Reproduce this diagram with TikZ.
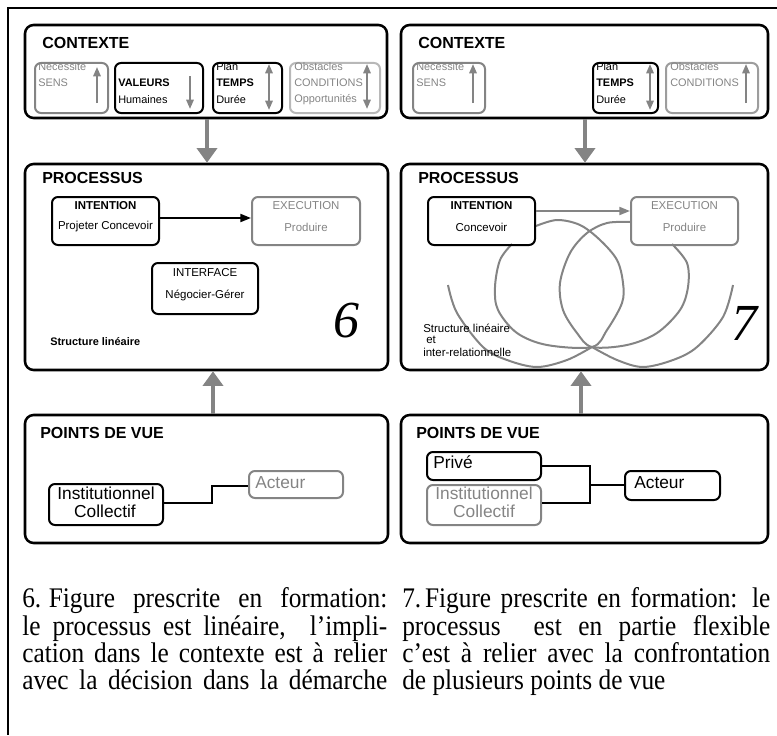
\documentclass[tikz,border=0pt]{standalone}
\usepackage{fontspec}
\usepackage{graphicx}
\setmainfont{Liberation Serif}
\setsansfont{Liberation Sans}
\usetikzlibrary{arrows.meta,fit}
\definecolor{mid}{HTML}{848484}
\definecolor{lightg}{HTML}{B8B8B8}
\newcommand{\capL}[1]{\scalebox{1}[1.12]{\makebox[273.75pt][s]{#1}}}
\newcommand{\capR}[1]{\scalebox{1}[1.12]{\makebox[276pt][s]{#1}}}
\begin{document}
\begin{tikzpicture}[x=0.75pt,y=-0.75pt,
  bigbox/.style={draw, line width=1.9pt, rounded corners=6.5pt, inner sep=0pt},
  smallbox/.style={draw, line width=1.5pt, rounded corners=4.5pt, inner sep=0pt},
  bigarrow/.style={draw=mid, line width=3.6pt, -{Triangle[width=15pt,length=11pt]}},
  tinyup/.style={draw=mid, line width=1.5pt, -{Triangle[width=5.5pt,length=7pt]}},
  tinydown/.style={draw=mid, line width=1.5pt, -{Triangle[width=5.5pt,length=7pt]}},
  tinyboth/.style={draw=mid, line width=1.5pt, {Triangle[width=5.5pt,length=7pt]}-{Triangle[width=5.5pt,length=7pt]}},
  linkarrow/.style={line width=1.5pt, -{Triangle[width=6pt,length=8pt]}},
  title/.style={font=\fontsize{12pt}{14pt}\selectfont\sffamily\bfseries, anchor=west, inner sep=0pt},
  sm/.style={font=\fontsize{8.2pt}{10pt}\selectfont\sffamily, anchor=west, inner sep=0pt},
  smb/.style={font=\fontsize{8.2pt}{10pt}\selectfont\sffamily\bfseries, anchor=west, inner sep=0pt},
  md/.style={font=\fontsize{8.6pt}{10pt}\selectfont\sffamily, inner sep=0pt},
  mdb/.style={font=\fontsize{8.6pt}{10pt}\selectfont\sffamily\bfseries, inner sep=0pt},
  lg/.style={font=\fontsize{13pt}{15pt}\selectfont\sffamily, inner sep=0pt},
  num/.style={font=\fontsize{39pt}{44pt}\selectfont\itshape, inner sep=0pt},
  captext/.style={font=\fontsize{19pt}{21pt}\selectfont, anchor=base west, inner sep=0pt},
  stxt/.style={font=\fontsize{8.6pt}{10pt}\selectfont\sffamily, anchor=west, inner sep=0pt},
  curve/.style={draw=mid, line width=1.5pt},
  conn/.style={line width=1.5pt}
]
\useasboundingbox (0,0) rectangle (777,735);
% outer frame
\draw[line width=1.9pt] (777,8) -- (8,8) -- (8,735);

% ================= LEFT (6) =================
% CONTEXTE
\node[bigbox, fit={(25,25)(387,118)}] (ctxL) {};
\node[title] (ctxLt) at (42,43) {CONTEXTE};
\node[smallbox, draw=mid, fit={(35,63)(108,113)}] (sensL) {};
\node[sm, text=mid] (sensL1) at (38,67) {Nécessité};
\node[sm, text=mid] (sensL2) at (38,83) {SENS};
\draw[tinyup] (97,103) -- (97,67);
\node[smallbox, fit={(115,63)(203,113)}] (valL) {};
\node[smb] (valL1) at (118,83) {VALEURS};
\node[sm] (valL2) at (118,100) {Humaines};
\draw[tinydown] (190,76) -- (190,109);
\node[smallbox, fit={(213,63)(282,113)}] (tpsL) {};
\node[sm] (tpsL1) at (216,67) {Plan};
\node[smb] (tpsL2) at (216,83) {TEMPS};
\node[sm] (tpsL3) at (216,100) {Durée};
\draw[tinyboth] (269,64) -- (269,110);
\node[smallbox, draw=lightg, fit={(290,63)(380,113)}] (obsL) {};
\node[sm, text=mid] (obsL1) at (294,67) {Obstacles};
\node[sm, text=mid] (obsL2) at (294,83) {CONDITIONS};
\node[sm, text=mid] (obsL3) at (294,100) {Opportunités};
\draw[tinyboth] (367,64) -- (367,109);

% PROCESSUS
\node[bigbox, fit={(25,164)(388,370)}] (procL) {};
\node[title] (procLt) at (42,178) {PROCESSUS};
\node[smallbox, fit={(52,197)(159,245)}] (intL) {};
\node[mdb] (intL1) at (105.5,206) {INTENTION};
\node[md] (intL2) at (105.5,227) {Projeter Concevoir};
\node[smallbox, draw=mid, fit={(252,197)(360,245)}] (exeL) {};
\node[md, text=mid] (exeL1) at (306,206) {EXECUTION};
\node[md, text=mid] (exeL2) at (306,227) {Produire};
\coordinate (aL) at (0,218);
\draw[linkarrow] (intL.east |- aL) -- (exeL.west |- aL);
\node[smallbox, fit={(152,263)(258,314)}] (itfL) {};
\node[md] (itfL1) at (205,273) {INTERFACE};
\node[md] (itfL2) at (205,295) {Négocier-Gérer};
\node[smb] (strL) at (50,342) {Structure linéaire};
\node[num] (sixL) at (346,321) {6};

% POINTS DE VUE
\node[bigbox, fit={(25,415)(388,543)}] (pdvL) {};
\node[title] (pdvLt) at (40,433) {POINTS DE VUE};
\node[smallbox, fit={(49,484)(163,525)}] (instL) {};
\node[lg] (instL1) at (106,493) {Institutionnel};
\node[lg] (instL2) at (105,511) {Collectif};
\node[smallbox, draw=mid, fit={(249,471)(343,498)}] (actL) {};
\node[lg, text=mid, anchor=west] (actL1) at (255,483) {Acteur};
\coordinate (pL1) at (0,503);
\coordinate (pL2) at (212,486);
\draw[conn] (instL.east |- pL1) -| (pL2) -- (actL.west |- pL2);

% big arrows left
\coordinate (xL1) at (207,0);
\coordinate (xL2) at (213,0);
\draw[bigarrow] (ctxL.south -| xL1) -- (procL.north -| xL1);
\draw[bigarrow] (pdvL.north -| xL2) -- (procL.south -| xL2);

% ================= RIGHT (7) =================
\node[bigbox, fit={(401,25)(768,118)}] (ctxR) {};
\node[title] (ctxRt) at (418,43) {CONTEXTE};
\node[smallbox, draw=mid, fit={(413,63)(485,113)}] (sensR) {};
\node[sm, text=mid] (sensR1) at (416,67) {Nécessité};
\node[sm, text=mid] (sensR2) at (416,83) {SENS};
\draw[tinyup] (473,103) -- (473,64);
\node[smallbox, fit={(593,63)(658,113)}] (tpsR) {};
\node[sm] (tpsR1) at (596,67) {Plan};
\node[smb] (tpsR2) at (596,83) {TEMPS};
\node[sm] (tpsR3) at (596,100) {Durée};
\draw[tinyboth] (650,64) -- (650,110);
\node[smallbox, draw=mid!80, fit={(666,63)(758,113)}] (obsR) {};
\node[sm, text=mid] (obsR1) at (670,67) {Obstacles};
\node[sm, text=mid] (obsR2) at (670,83) {CONDITIONS};
\draw[tinyup] (746,103) -- (746,64);

% PROCESSUS right
\node[bigbox, fit={(401,164)(768,370)}] (procR) {};
\node[title] (procRt) at (418,178) {PROCESSUS};
\draw[curve] plot[smooth, tension=0.55] coordinates {(536,226)(557,220)(580,225)(600,240)(617,260)(623,283)(622,303)(607,330)(592,347)(547,345)(517,333)(498,310)(495,287)(500,260)(512,244)};
\draw[curve] plot[smooth, tension=0.55] coordinates {(630,222)(607,223)(587,233)(570,253)(560,283)(563,310)(577,333)(592,347)(627,345)(657,333)(680,310)(688,287)(687,263)(672,244)};
\draw[curve] plot[smooth, tension=0.55] coordinates {(448,285)(457,313)(483,347)(507,360)(537,367)(567,360)(592,347)};
\draw[curve] plot[smooth, tension=0.55] coordinates {(733,285)(723,317)(697,347)(673,360)(643,367)(617,360)(592,347)};
\node[smallbox, fit={(428,197)(535,245)}] (intR) {};
\node[mdb] (intR1) at (481.5,206) {INTENTION};
\node[md] (intR2) at (481.5,227) {Concevoir};
\node[smallbox, draw=mid, fit={(631,197)(738,245)}] (exeR) {};
\node[md, text=mid] (exeR1) at (684.5,206) {EXECUTION};
\node[md, text=mid] (exeR2) at (684.5,227) {Produire};
\coordinate (aR) at (0,211);
\draw[linkarrow, draw=mid] (intR.east |- aR) -- (exeR.west |- aR);
\node[stxt] (strR1) at (423,328) {Structure linéaire};
\node[stxt] (strR2) at (426,340) {et};
\node[stxt] (strR3) at (423,352) {inter-relationnelle};
\node[num] (sevR) at (744,323) {7};

% POINTS DE VUE right
\node[bigbox, fit={(401,415)(768,543)}] (pdvR) {};
\node[title] (pdvRt) at (416,433) {POINTS DE VUE};
\node[smallbox, fit={(427,452)(541,480)}] (privR) {};
\node[lg, anchor=west] (privR1) at (433,462) {Privé};
\node[smallbox, draw=mid, fit={(427,485)(541,525)}] (instR) {};
\node[lg, text=mid] (instR1) at (484,493) {Institutionnel};
\node[lg, text=mid] (instR2) at (484,511) {Collectif};
\node[smallbox, fit={(625,471)(720,500)}] (actR) {};
\node[lg, anchor=west] (actR1) at (634,483) {Acteur};
\coordinate (qa) at (0,466);
\coordinate (qb) at (0,503);
\coordinate (jR) at (590,485);
\draw[conn] (privR.east |- qa) -| (jR) |- (instR.east |- qb);
\draw[conn] (jR) -- (actR.west |- jR);

% big arrows right
\coordinate (xR1) at (585,0);
\coordinate (xR2) at (581,0);
\draw[bigarrow] (ctxR.south -| xR1) -- (procR.north -| xR1);
\draw[bigarrow] (pdvR.north -| xR2) -- (procR.south -| xR2);

% ================= CAPTIONS =================
\node[captext] (capL1) at (22,607) {\capL{6.\hspace{0.3em}Figure prescrite en formation:}};
\node[captext] (capL2) at (22,635) {\capL{le processus est linéaire,\ \ l’impli-}};
\node[captext] (capL3) at (22,662) {\capL{cation dans le contexte est à relier}};
\node[captext] (capL4) at (22,689) {\capL{avec la décision dans la démarche}};
\node[captext] (capR1) at (402,607) {\capR{7.\hspace{0.15em}Figure prescrite en formation: le}};
\node[captext] (capR2) at (402,635) {\capR{processus\ \ est en partie flexible}};
\node[captext] (capR3) at (402,662) {\capR{c’est à relier avec la confrontation}};
\node[captext] (capR4) at (402,689) {\scalebox{1}[1.12]{de plusieurs points de vue}};
\end{tikzpicture}
\end{document}
